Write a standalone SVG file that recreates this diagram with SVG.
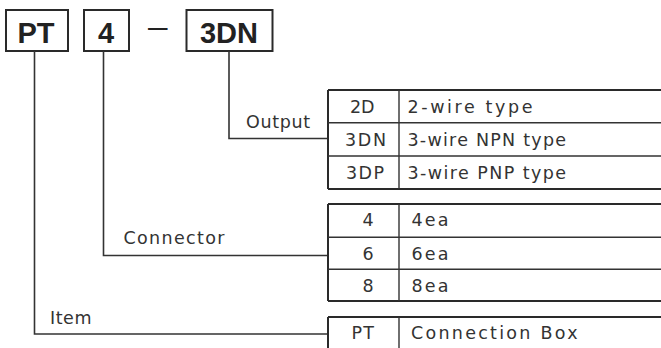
<svg xmlns="http://www.w3.org/2000/svg" width="661" height="348" viewBox="0 0 661 348">
<style>
.bx{fill:#fff;stroke:#2a2a2a;stroke-width:2}
.big{font-family:"Liberation Sans",Arial,sans-serif;font-weight:bold;font-size:29px;fill:#222;text-anchor:middle}
.t{font-family:"DejaVu Sans","Liberation Sans",sans-serif;font-size:17.5px;fill:#333}
.c{text-anchor:middle}
.ln{fill:none;stroke:#333;stroke-width:1.6}
.ob{fill:none;stroke:#2a2a2a;stroke-width:2}
.ib{fill:none;stroke:#333;stroke-width:1.4}
</style>
<rect width="661" height="348" fill="#fff"/>
<g id="code">
  <g id="box-pt"><rect class="bx" x="6" y="10" width="62" height="41"/><text class="big" x="36" y="43">PT</text></g>
  <g id="box-4"><rect class="bx" x="84" y="10" width="45" height="41"/><text class="big" x="106" y="43">4</text></g>
  <g id="dash"><text x="148" y="36.5" textLength="19.5" lengthAdjust="spacingAndGlyphs" style="font-family:'Liberation Sans',Arial,sans-serif;font-size:30px;fill:#222">–</text></g>
  <g id="box-3dn"><rect class="bx" x="186.5" y="10" width="86" height="41"/><text class="big" x="229" y="43">3DN</text></g>
</g>
<g id="connectors">
  <polyline class="ln" points="229,51 229,138.5 328,138.5"/>
  <polyline class="ln" points="103.5,51 103.5,255.5 328,255.5"/>
  <polyline class="ln" points="34.5,51 34.5,334 328,334"/>
</g>
<g id="output-label"><text class="t" x="246" y="128" textLength="64">Output</text></g>
<g id="connector-label"><text class="t" x="123.5" y="244" textLength="101">Connector</text></g>
<g id="item-label"><text class="t" x="50" y="324" textLength="41.5">Item</text></g>
<g id="table-output">
  <path class="ob" d="M328,90 H662 M328,189 H662 M328,90 V189"/>
  <path class="ib" d="M328,122.7 H662 M328,156 H662 M399,90 V189"/>
  <text class="t" x="350" y="113" textLength="24.5">2D</text>
  <text class="t" x="345" y="146" textLength="41">3DN</text>
  <text class="t" x="346" y="179" textLength="38">3DP</text>
  <text class="t" x="407.5" y="113" textLength="125">2-wire type</text>
  <text class="t" x="407.5" y="146" textLength="158.5">3-wire NPN type</text>
  <text class="t" x="407.5" y="179" textLength="158.5">3-wire PNP type</text>
</g>
<g id="table-connector">
  <path class="ob" d="M328,204 H662 M328,301 H662 M328,204 V301"/>
  <path class="ib" d="M328,237.3 H662 M328,269.3 H662 M399,204 V301"/>
  <text class="t c" x="368" y="226">4</text>
  <text class="t c" x="368" y="259.5">6</text>
  <text class="t c" x="368" y="292">8</text>
  <text class="t" x="411.5" y="226" textLength="37">4ea</text>
  <text class="t" x="411.5" y="259.5" textLength="37">6ea</text>
  <text class="t" x="411.5" y="292" textLength="37">8ea</text>
</g>
<g id="table-item">
  <path class="ob" d="M328,317 H662 M328,317 V350"/>
  <path class="ib" d="M399,317 V350"/>
  <text class="t" x="351.5" y="339" textLength="22.5">PT</text>
  <text class="t" x="411" y="339" textLength="166.5">Connection Box</text>
</g>
</svg>
